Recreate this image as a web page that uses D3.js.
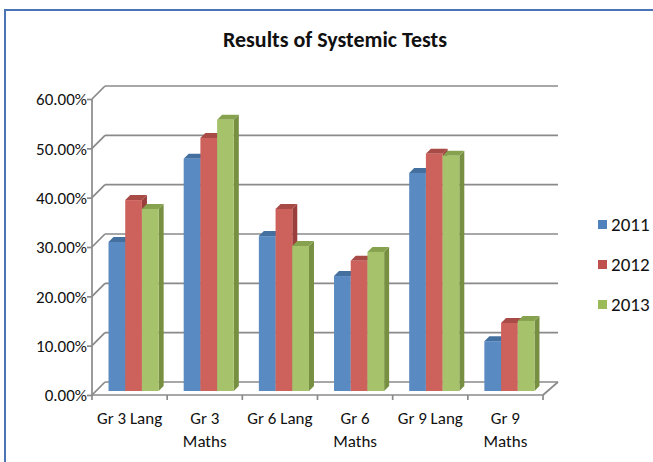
<!DOCTYPE html>
<html>
<head>
<meta charset="utf-8">
<script src="https://cdn.jsdelivr.net/npm/d3@7"></script>
<style>
  html, body { margin: 0; padding: 0; background: #fff; }
  svg { display: block; }
  text { font-family: Carlito, "Liberation Sans Narrow", "Arial Narrow", "Open Sans", sans-serif; fill: #111; }
</style>
</head>
<body>
<svg id="chart" width="653" height="462"></svg>
<script>
const categories = ["Gr 3 Lang", "Gr 3 Maths", "Gr 6 Lang", "Gr 6 Maths", "Gr 9 Lang", "Gr 9 Maths"];
const categoryLines = [["Gr 3 Lang"], ["Gr 3", "Maths"], ["Gr 6 Lang"], ["Gr 6", "Maths"], ["Gr 9 Lang"], ["Gr 9", "Maths"]];
const seriesNames = ["2011", "2012", "2013"];
const values2011 = [0.302, 0.471, 0.314, 0.233, 0.442, 0.101];
const values2012 = [0.387, 0.513, 0.369, 0.264, 0.481, 0.138];
const values2013 = [0.369, 0.550, 0.294, 0.282, 0.477, 0.142];
const yTicks = [0, 0.1, 0.2, 0.3, 0.4, 0.5, 0.6];
const title = "Results of Systemic Tests";

const seriesValues = [values2011, values2012, values2013];
const frontColors = ["#5a8ac2", "#cd625d", "#a6c36c"];
const topColors = ["#44709f", "#a84a46", "#86a24f"];
const sideColors = ["#3e6896", "#9a3f3c", "#768f40"];
const legendColors = ["#4f81bd", "#c0504d", "#9bbb59"];

const svg = d3.select("#chart");

// border
svg.append("path")
  .attr("d", "M5,470 L5,10 L660,10")
  .attr("fill", "none").attr("stroke", "#4a74b4").attr("stroke-width", 2);

// title
svg.append("text").attr("x", 335).attr("y", 47)
  .attr("text-anchor", "middle").attr("font-weight", "bold")
  .attr("font-size", 22).text(title);

const DX = 13, DY = -13;        // wall depth
const BX = 4, BY = -4;          // bar front-plane offset
const BD = 5;                   // bar depth

const x0 = d3.scaleBand().domain(categories).range([92, 543]).paddingInner(0).paddingOuter(0);
const x1 = d3.scaleBand().domain(seriesNames).range([0, x0.bandwidth()]).paddingInner(0).paddingOuter(0.75);
const y = d3.scaleLinear().domain([0, 0.6]).range([395, 99]);

const gridColor = "#8a8a8a";
const grid = svg.append("g");
// back gridlines + diagonals
yTicks.forEach(t => {
  const yy = y(t);
  grid.append("line").attr("x1", 92 + DX).attr("x2", 543 + DX + 2)
    .attr("y1", yy + DY).attr("y2", yy + DY)
    .attr("stroke", gridColor).attr("stroke-width", 1.7);
  grid.append("line").attr("x1", 92).attr("y1", yy).attr("x2", 92 + DX).attr("y2", yy + DY)
    .attr("stroke", gridColor).attr("stroke-width", 1.7);
});
// floor front line & right diagonal
grid.append("line").attr("x1", 92).attr("x2", 543).attr("y1", y(0)).attr("y2", y(0))
  .attr("stroke", gridColor).attr("stroke-width", 1.7);
grid.append("line").attr("x1", 543).attr("y1", y(0)).attr("x2", 543 + DX + 2).attr("y2", y(0) + DY)
  .attr("stroke", gridColor).attr("stroke-width", 1.7);
// front vertical axis
grid.append("line").attr("x1", 92).attr("x2", 92).attr("y1", y(0.6)).attr("y2", y(0) + 5)
  .attr("stroke", gridColor).attr("stroke-width", 1.7);

// y axis ticks and labels
const yAxis = d3.axisLeft(y).tickValues(yTicks).tickSize(5).tickFormat(d => (d * 100).toFixed(2) + "%");
const yg = svg.append("g").attr("transform", "translate(92,0)").call(yAxis);
yg.select(".domain").remove();
yg.selectAll(".tick line").attr("stroke", gridColor).attr("stroke-width", 1.7);
yg.selectAll(".tick text").attr("font-size", 17).attr("fill", "#111")
  .attr("font-family", null).attr("x", -5).attr("dy", "0.35em");

// x tick marks at category boundaries
const bounds = categories.map(c => x0(c) + x0.bandwidth());
bounds.forEach(bx => {
  grid.append("line").attr("x1", bx).attr("x2", bx).attr("y1", y(0)).attr("y2", y(0) + 5)
    .attr("stroke", gridColor).attr("stroke-width", 1.7);
});

// bars
const bars = svg.append("g");
categories.forEach((c, ci) => {
  seriesNames.forEach((s, si) => {
    const v = seriesValues[si][ci];
    const xl = x0(c) + x1(s) + BX;
    const w = x1.bandwidth();
    const yt = y(v) + BY;
    const yb = y(0) + BY;
    // side
    bars.append("path")
      .attr("d", `M${xl + w},${yb} L${xl + w + BD},${yb - BD} L${xl + w + BD},${yt - BD} L${xl + w},${yt} Z`)
      .attr("fill", sideColors[si]);
    // top
    bars.append("path")
      .attr("d", `M${xl},${yt} L${xl + BD},${yt - BD} L${xl + w + BD},${yt - BD} L${xl + w},${yt} Z`)
      .attr("fill", topColors[si]);
    // front
    bars.append("rect").attr("x", xl).attr("y", yt).attr("width", w).attr("height", yb - yt)
      .attr("fill", frontColors[si]);
  });
});

// x labels
categories.forEach((c, ci) => {
  const cx = x0(c) + x0.bandwidth() / 2;
  const t = svg.append("text").attr("x", cx).attr("y", 424)
    .attr("text-anchor", "middle").attr("font-size", 17);
  categoryLines[ci].forEach((ln, li) => {
    t.append("tspan").attr("x", cx).attr("dy", li === 0 ? 0 : 23).text(ln);
  });
});

// legend
const lg = svg.append("g");
seriesNames.forEach((s, si) => {
  const cy = 224 + si * 40;
  lg.append("rect").attr("x", 598).attr("y", cy - 4).attr("width", 9).attr("height", 9)
    .attr("fill", legendColors[si]);
  lg.append("text").attr("x", 611).attr("y", cy).attr("dy", "0.35em")
    .attr("font-size", 19).text(s);
});
</script>
</body>
</html>
